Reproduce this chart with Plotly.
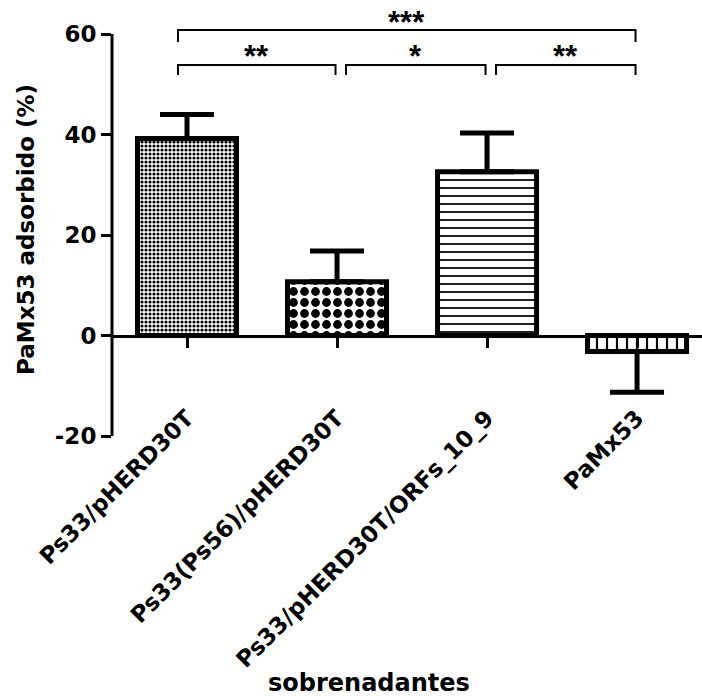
import plotly.graph_objects as go

categories = ["Ps33/pHERD30T", "Ps33(Ps56)/pHERD30T", "Ps33/pHERD30T/ORFs_10_9", "PaMx53"]
values = [39.2, 10.7, 32.6, -3.2]
errors = [4.8, 6.1, 7.7, 8.1]
y_ticks = [-20, 0, 20, 40, 60]
y_tick_text = ["-20", "0", "20", "40", "60"]
y_title = "PaMx53 adsorbido (%)"
x_title = "sobrenadantes"
# significance brackets: (left category, right category, label, level)
brackets = [(0, 3, "***", "top"), (0, 1, "**", "low"), (1, 2, "*", "low"), (2, 3, "**", "low")]

FONT = dict(family="DejaVu Sans", size=23, color="black", weight="bold")
STAR_FONT = dict(family="Liberation Sans", size=31, color="black", weight="bold")
PX_PER_UNIT = (436 - 34) / 80.0
YTOP = 60 + 34 / PX_PER_UNIT

up = [e if v >= 0 else 0 for v, e in zip(values, errors)]
down = [e if v < 0 else 0 for v, e in zip(values, errors)]

fig = go.Figure()
fig.add_trace(go.Bar(
    x=list(range(len(categories))), y=values, width=0.66,
    marker=dict(
        color="white",
        line=dict(color="black", width=5),
        pattern=dict(shape=[".", ".", "-", "|"], size=[4, 11, 8, 10],
                     solidity=[0.5, 0.5, 0.22, 0.22],
                     fgcolor="black", bgcolor="white", fillmode="replace"),
    ),
    error_y=dict(type="data", symmetric=False, array=up, arrayminus=down,
                 color="black", thickness=5, width=27),
    showlegend=False,
))

fig.update_layout(
    width=702, height=696,
    margin=dict(l=112, r=0, t=0, b=260),
    paper_bgcolor="white", plot_bgcolor="white",
    font=FONT,
    xaxis=dict(range=[-0.5, 3.433], anchor="free", position=20 / (YTOP + 20),
               showline=True, linecolor="black", linewidth=3,
               ticks="outside", ticklen=10, tickwidth=3, tickcolor="black",
               tickvals=list(range(len(categories))), ticktext=categories,
               tickangle=-45, ticklabelstandoff=48, tickfont=FONT,
               showgrid=False, zeroline=False),
    yaxis=dict(range=[-20, YTOP], tickvals=y_ticks, ticktext=y_tick_text, ticks="outside", ticklen=10,
               tickwidth=3, tickcolor="black", showline=False, showgrid=False,
               zeroline=False, tickfont=FONT),
)

# y axis line only from -20 to 60
fig.add_shape(type="line", xref="paper", yref="y", x0=0, x1=0, y0=y_ticks[0], y1=y_ticks[-1],
              line=dict(color="black", width=3))

# brackets
for a, b, lab, level in brackets:
    if level == "top":
        yh, yl, ys = 60.8, 58.4, 62.2
    else:
        yh, yl, ys = 53.83, 51.84, 55.6
    x0 = a + (0.06 if (a > 0 and level == "low") else -0.06)
    x1 = b - 0.01
    fig.add_shape(type="path", xref="x", yref="y",
                  path=f"M {x0},{yl} L {x0},{yh} L {x1},{yh} L {x1},{yl}",
                  line=dict(color="black", width=2))
    fig.add_annotation(x=(x0 + x1) / 2, y=ys, xref="x", yref="y", text=lab,
                       showarrow=False, font=STAR_FONT, xanchor="center", yanchor="middle")

fig.add_annotation(x=-86 / 590, y=(436 - 230) / 436, xref="paper", yref="paper", text=y_title,
                   textangle=-90, showarrow=False, font=FONT, xanchor="center", yanchor="middle")
fig.add_annotation(x=(369 - 112) / 590, y=-(683 - 436) / 436, xref="paper", yref="paper", text=x_title,
                   showarrow=False, font=dict(family="DejaVu Sans", size=24, weight="bold", color="black"),
                   xanchor="center", yanchor="middle")

fig.write_html("out.html", config={"displayModeBar": False},
               post_script="document.body.style.margin='0';")
